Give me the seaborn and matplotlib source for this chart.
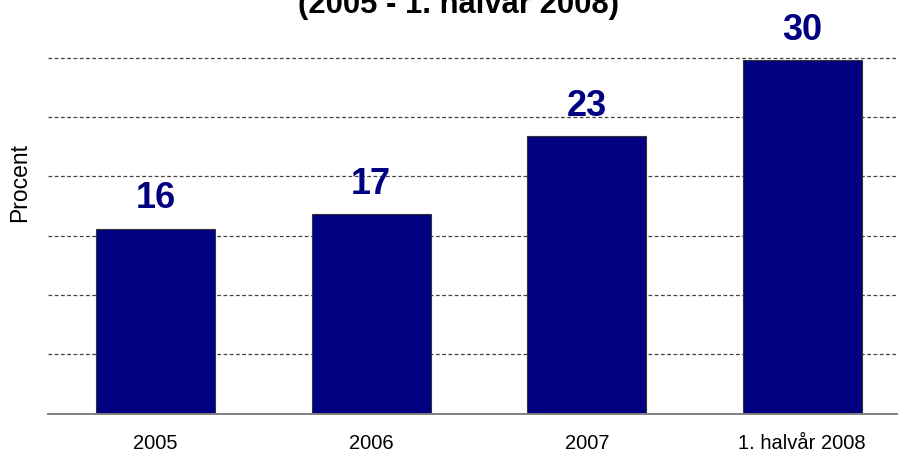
import numpy as np
import pandas as pd
import seaborn as sns
import matplotlib.pyplot as plt
from matplotlib.ticker import FixedLocator

# data
periods = ['2005', '2006', '2007', '1. halvår 2008']
procent = [15.6, 16.8, 23.4, 29.8]
labels = ['16', '17', '23', '30']
grid_levels = [5, 10, 15, 20, 25, 30]

df = pd.DataFrame({'period': periods, 'procent': procent})

sns.set_style('white')
plt.rcParams['font.family'] = ['Liberation Sans', 'DejaVu Sans']
plt.rcParams['text.color'] = 'black'
plt.rcParams['xtick.color'] = 'black'
plt.rcParams['axes.labelcolor'] = 'black'

fig = plt.figure(figsize=(8.98, 4.54), dpi=100)
ax = fig.add_axes([48 / 898, 40.5 / 454, 862 / 898, 367.4 / 454])

sns.barplot(data=df, x='period', y='procent', ax=ax, color='#000080',
            width=0.55, edgecolor='#333333', linewidth=0.8, saturation=1)

ax.set_xlim(-0.5, 3.5)
ax.set_ylim(0, 31)

# dashed grid lines, no y tick labels
ax.set_yticks(grid_levels)
ax.set_yticklabels([])
ax.tick_params(axis='y', length=0)
ax.yaxis.grid(True, linestyle=(0, (3, 2)), color='#444444', linewidth=0.9)
ax.set_axisbelow(True)

# ticks at category boundaries
ax.xaxis.set_minor_locator(FixedLocator(np.arange(-0.5, 4.0, 1)))
ax.tick_params(axis='x', which='major', length=0, labelsize=14.5, pad=15,
               labelcolor='black')
ax.tick_params(axis='x', which='minor', length=7, width=1.2, color='#555555',
               direction='out')

for s in ['top', 'right', 'left']:
    ax.spines[s].set_visible(False)
ax.spines['bottom'].set_color('#808080')
ax.spines['bottom'].set_linewidth(1.4)

ax.set_xlabel('')
ax.set_ylabel('Procent', fontsize=16.5)
ax.yaxis.set_label_coords(-0.019, 0.63)

for i, (v, t) in enumerate(zip(procent, labels)):
    ax.annotate(t, xy=(i, v), xytext=(0, 9), textcoords='offset points',
                ha='center', va='bottom', fontsize=26, fontweight='bold',
                color='#000080')

fig.text(458 / 898, (454 - 13) / 454, '(2005 - 1. halvår 2008)',
         ha='center', va='baseline', fontsize=22.3, fontweight='bold')

fig.savefig('out.png', dpi=100)
